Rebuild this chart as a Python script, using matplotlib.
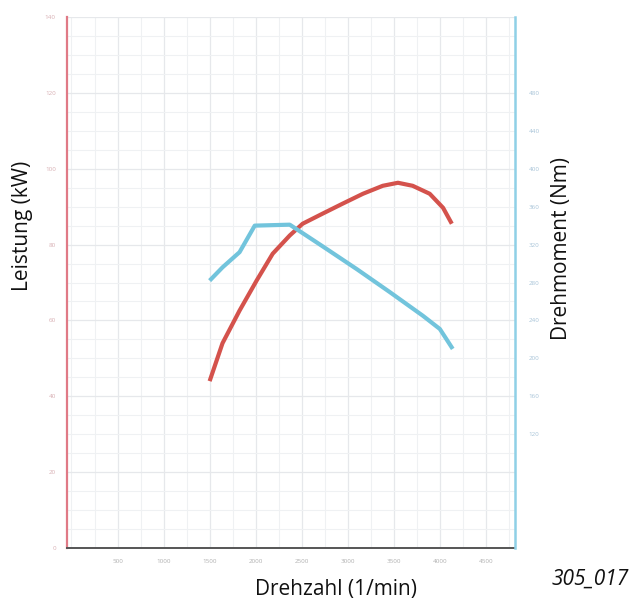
import matplotlib.pyplot as plt
from matplotlib.ticker import MultipleLocator

# Leistung (kW) over Drehzahl
power_rpm = [1500, 1640, 1825, 2010, 2185, 2370, 2510, 2730, 2945, 3165, 3380, 3545, 3705, 3890, 4035, 4130]
power_kw = [44, 54, 62.6, 70.5, 77.6, 82.4, 85.5, 88.2, 90.8, 93.4, 95.5, 96.3, 95.5, 93.4, 89.7, 85.5]

# Drehmoment (Nm) over Drehzahl
torque_rpm = [1500, 1640, 1825, 1990, 2370, 2480, 2730, 3100, 3455, 3815, 4000, 4140]
torque_nm = [282, 296, 312, 340, 341, 334, 318, 294, 270, 245, 231, 210]

rpm_ticks = [500, 1000, 1500, 2000, 2500, 3000, 3500, 4000, 4500]
kw_ticks = [0, 20, 40, 60, 80, 100, 120, 140]
nm_ticks = [120, 160, 200, 240, 280, 320, 360, 400, 440, 480]

red = '#d4524c'
blue = '#72c4dc'

plt.rcParams['font.family'] = ['Open Sans', 'DejaVu Sans']

fig = plt.figure(figsize=(6.31, 6.10), dpi=100)
ax = fig.add_axes([0.106, 0.1016, 0.71, 0.8705])
ax2 = ax.twinx()

ax.set_xlim(-50, 4815)
ax.set_ylim(0, 140)
ax2.set_ylim(0, 560)

# grid
ax.xaxis.set_minor_locator(MultipleLocator(250))
ax.yaxis.set_minor_locator(MultipleLocator(5))
ax.grid(which='minor', color='#eff1f3', linewidth=0.8)
ax.grid(which='major', color='#e6e8eb', linewidth=0.9)
ax.set_axisbelow(True)

ax.plot(power_rpm, power_kw, color=red, linewidth=3, solid_capstyle='butt',
        solid_joinstyle='round', zorder=3)
ax2.plot(torque_rpm, torque_nm, color=blue, linewidth=3, solid_capstyle='butt',
         solid_joinstyle='round', zorder=3)

ax.set_xticks(rpm_ticks)
ax.set_xticklabels([str(v) for v in rpm_ticks], fontsize=4.5, color='#b0b0b0')
ax.set_yticks(kw_ticks)
ax.set_yticklabels([str(v) for v in kw_ticks], fontsize=4.5, color='#d8b0b4')
ax2.set_yticks(nm_ticks)
ax2.set_yticklabels([str(v) for v in nm_ticks], fontsize=4.5, color='#a8c4d8')
ax.tick_params(axis='both', which='both', length=0, pad=8)
ax2.tick_params(axis='y', length=0, pad=10)

for a in (ax, ax2):
    a.spines['top'].set_visible(False)
ax.spines['left'].set_color('#e07a86')
ax.spines['left'].set_linewidth(1.6)
ax.spines['bottom'].set_color('#555555')
ax.spines['bottom'].set_linewidth(1.4)
ax.spines['right'].set_visible(False)
ax2.spines['left'].set_visible(False)
ax2.spines['bottom'].set_visible(False)
ax2.spines['right'].set_color('#8fd0e6')
ax2.spines['right'].set_linewidth(1.8)

fig.text(0.035, 0.63, 'Leistung (kW)', rotation=90, ha='center', va='center', fontsize=15, color='#111111')
fig.text(0.89, 0.593, 'Drehmoment (Nm)', rotation=90, ha='center', va='center', fontsize=15, color='#111111')
fig.text(0.533, 0.033, 'Drehzahl (1/min)', ha='center', va='center', fontsize=15, color='#111111')
fig.text(0.935, 0.05, '305_017', ha='center', va='center', fontsize=15, style='italic', color='#111111')

fig.savefig('out.png', dpi=100)
